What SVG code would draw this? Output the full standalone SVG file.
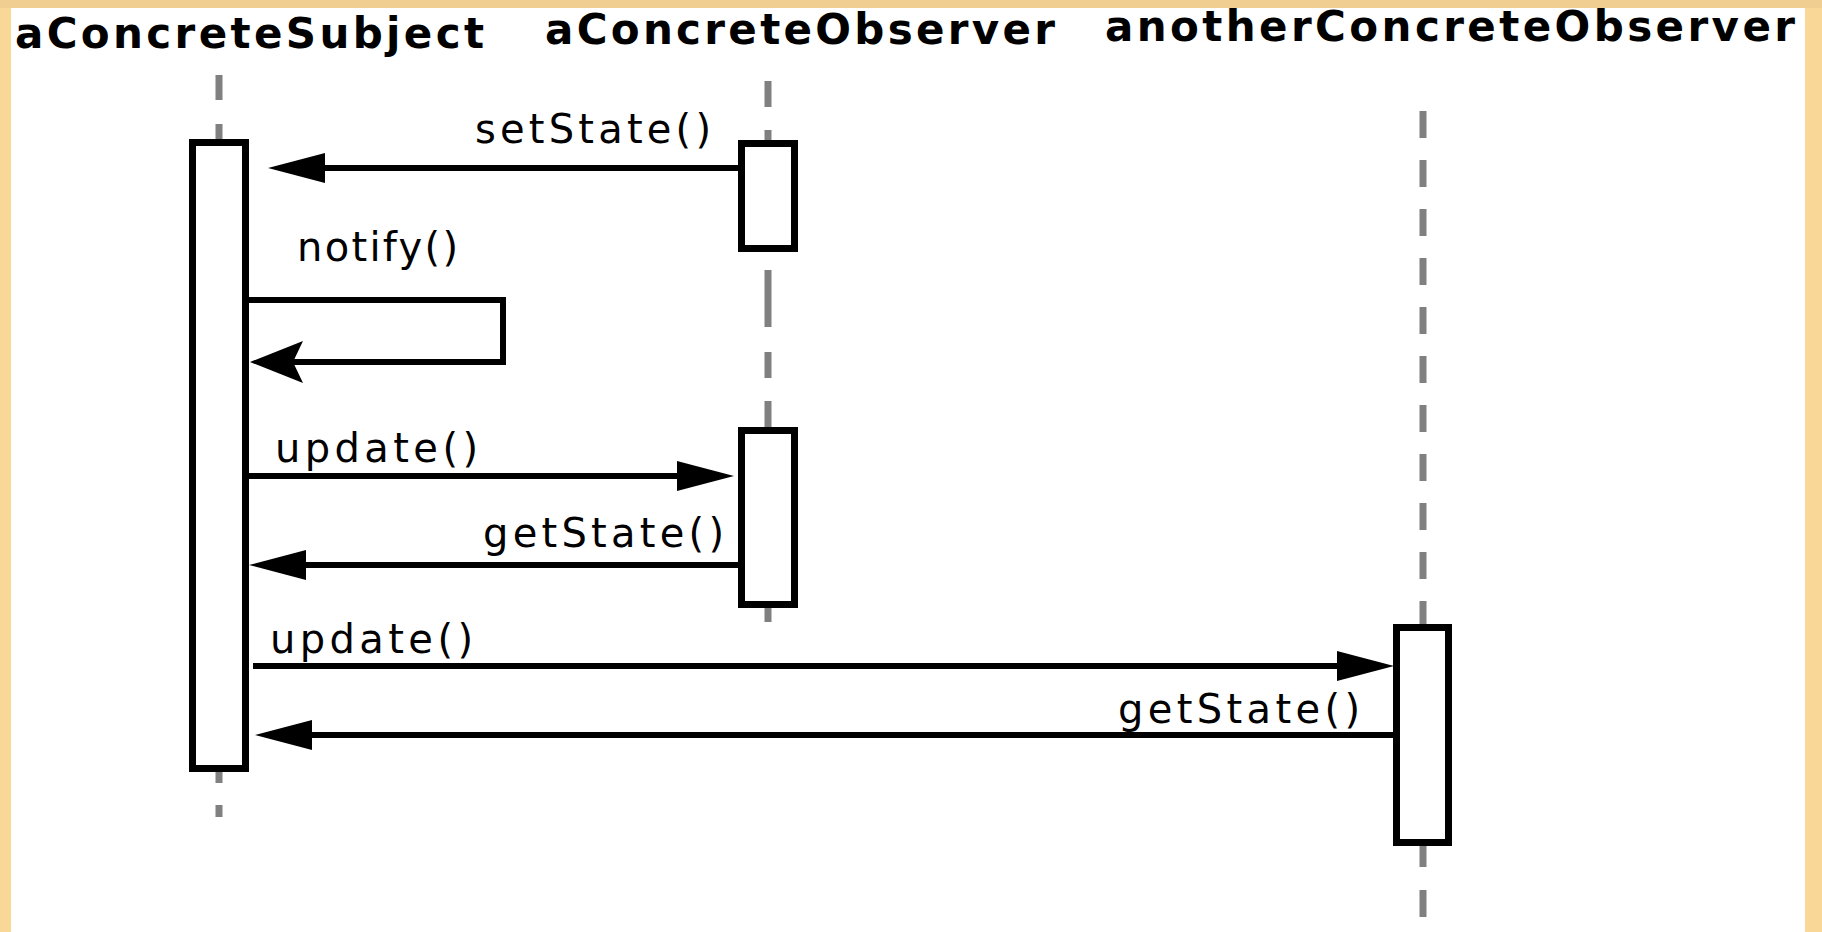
<svg xmlns="http://www.w3.org/2000/svg" width="1822" height="932" viewBox="0 0 1822 932">
  <style>
    .title { font-family: "DejaVu Sans", "Liberation Sans", sans-serif; font-weight: bold; font-size: 42px; fill: #000; }
    .label { font-family: "DejaVu Sans", "Liberation Sans", sans-serif; font-size: 40px; fill: #000; }
    .lifeline { stroke: #808080; stroke-width: 7; fill: none; }
    .activation { fill: #fff; stroke: #000; stroke-width: 7; }
    .msg { stroke: #000; stroke-width: 6; fill: none; }
  </style>
  <defs>
    <marker id="head" markerUnits="userSpaceOnUse" markerWidth="60" markerHeight="34" viewBox="0 -17 60 34" refX="2" refY="0" orient="auto" overflow="visible">
      <polygon points="0,-15 57,0 0,15" fill="#000"/>
    </marker>
    <marker id="self-head" markerUnits="userSpaceOnUse" markerWidth="56" markerHeight="46" viewBox="0 -23 56 46" refX="10" refY="0" orient="auto" overflow="visible">
      <polygon points="0,-21 53,0 0,21 10,0" fill="#000"/>
    </marker>
  </defs>

  <!-- frame -->
  <rect x="0" y="0" width="1822" height="932" fill="#F9D797"/>
  <rect x="0" y="0" width="1822" height="8" fill="#F0CD90"/>
  <rect x="11" y="8" width="1794" height="924" fill="#FFFFFF"/>

  <!-- lifelines -->
  <g id="lifelines">
    <path class="lifeline" d="M219,75 V100 M219,124 V140 M219,772 V783 M219,805 V817"/>
    <path class="lifeline" d="M768,81 V107 M768,130 V141 M768,270 V327 M768,352 V378 M768,401 V428 M768,607 V622"/>
    <path class="lifeline" d="M1423,111 V625" stroke-dasharray="27 22"/>
    <path class="lifeline" d="M1423,846 V867 M1423,890 V917"/>
  </g>

  <!-- participants -->
  <g id="aConcreteSubject">
    <text class="title" x="15" y="48" textLength="469" lengthAdjust="spacing">aConcreteSubject</text>
    <rect class="activation" x="192.5" y="142.5" width="53" height="626"/>
  </g>
  <g id="aConcreteObserver">
    <text class="title" x="545" y="44" textLength="510" lengthAdjust="spacing">aConcreteObserver</text>
    <rect class="activation" x="741.5" y="143.5" width="53" height="105"/>
    <rect class="activation" x="741.5" y="430.5" width="53" height="174"/>
  </g>
  <g id="anotherConcreteObserver">
    <text class="title" x="1105" y="41" textLength="690" lengthAdjust="spacing">anotherConcreteObserver</text>
    <rect class="activation" x="1396.5" y="627.5" width="52" height="215"/>
  </g>

  <!-- messages -->
  <g id="connectors">
    <path class="msg" d="M738,168 H323" marker-end="url(#head)"/>
    <text class="label" x="475" y="143" textLength="236" lengthAdjust="spacing">setState()</text>

    <path class="msg" d="M248,300 H503 V362 H293" marker-end="url(#self-head)"/>
    <text class="label" x="297" y="261" textLength="161" lengthAdjust="spacing">notify()</text>

    <path class="msg" d="M248,476 H679" marker-end="url(#head)"/>
    <text class="label" x="275" y="462" textLength="203" lengthAdjust="spacing">update()</text>

    <path class="msg" d="M738,565 H304" marker-end="url(#head)"/>
    <text class="label" x="483" y="547" textLength="241" lengthAdjust="spacing">getState()</text>

    <path class="msg" d="M253,666 H1339" marker-end="url(#head)"/>
    <text class="label" x="270" y="653" textLength="203" lengthAdjust="spacing">update()</text>

    <path class="msg" d="M1395,735 H310" marker-end="url(#head)"/>
    <text class="label" x="1118" y="723" textLength="242" lengthAdjust="spacing">getState()</text>
  </g>
</svg>
